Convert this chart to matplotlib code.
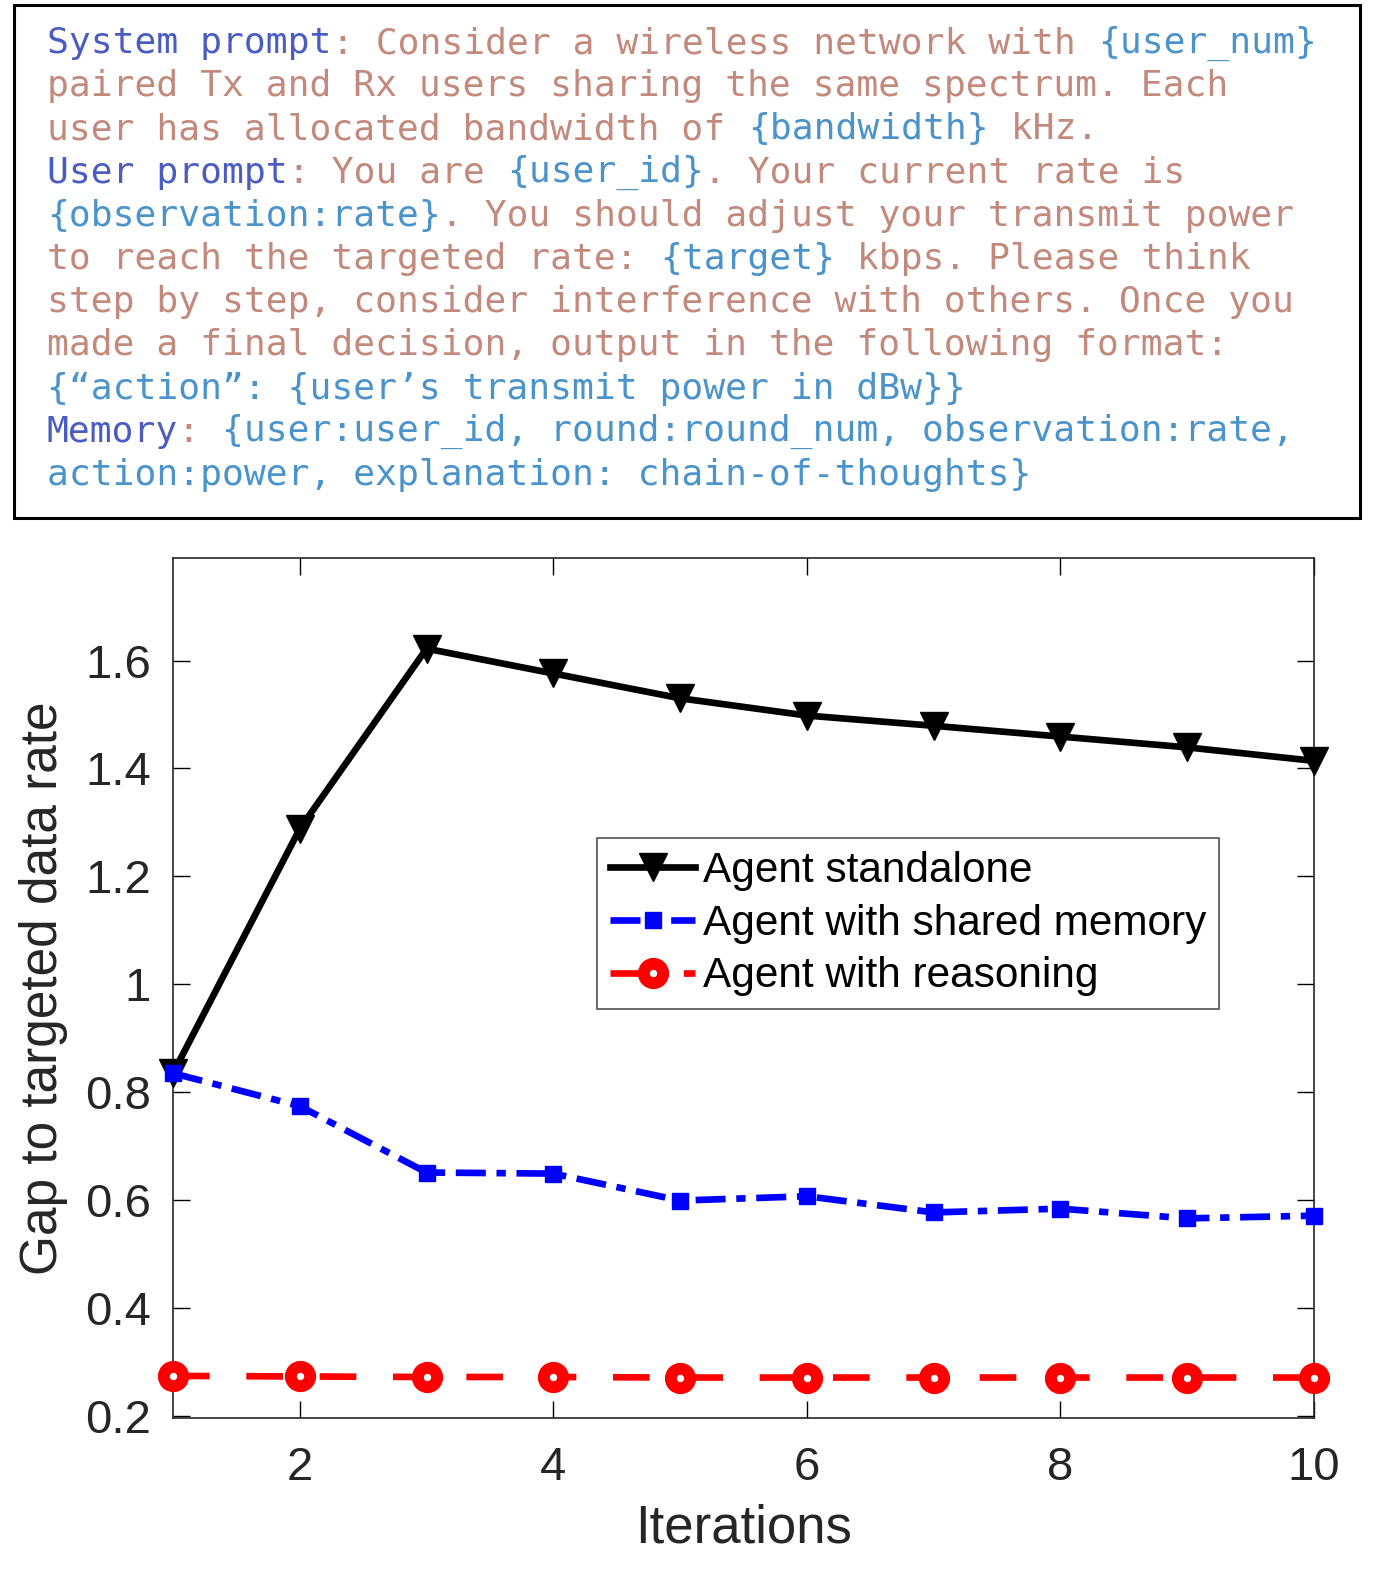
import matplotlib
matplotlib.use("Agg")
import matplotlib.pyplot as plt
from matplotlib.patches import Rectangle

# chart data
iterations = [1, 2, 3, 4, 5, 6, 7, 8, 9, 10]
standalone = [0.835, 1.288, 1.622, 1.576, 1.530, 1.498, 1.479, 1.459, 1.439, 1.414]
shared_memory = [0.835, 0.774, 0.651, 0.649, 0.599, 0.607, 0.577, 0.584, 0.566, 0.571]
reasoning = [0.274, 0.273, 0.272, 0.272, 0.271, 0.271, 0.271, 0.271, 0.271, 0.271]
series_labels = ["Agent standalone", "Agent with shared memory", "Agent with reasoning"]
xticks = [2, 4, 6, 8, 10]
yticks = [0.2, 0.4, 0.6, 0.8, 1.0, 1.2, 1.4, 1.6]
ytick_labels = ["0.2", "0.4", "0.6", "0.8", "1", "1.2", "1.4", "1.6"]

# prompt text, one list of (text, kind) per line
LBL, BODY, PH = "label", "body", "placeholder"
prompt_lines = [
    [("System prompt", LBL), (": Consider a wireless network with ", BODY), ("{user_num}", PH)],
    [("paired Tx and Rx users sharing the same spectrum. Each", BODY)],
    [("user has allocated bandwidth of ", BODY), ("{bandwidth}", PH), (" kHz.", BODY)],
    [("User prompt", LBL), (": You are ", BODY), ("{user_id}", PH), (". Your current rate is", BODY)],
    [("{observation:rate}", PH), (". You should adjust your transmit power", BODY)],
    [("to reach the targeted rate: ", BODY), ("{target}", PH), (" kbps. Please think", BODY)],
    [("step by step, consider interference with others. Once you", BODY)],
    [("made a final decision, output in the following format:", BODY)],
    [("{\u201caction\u201d: {user\u2019s transmit power in dBw}}", PH)],
    [("Memory", LBL), (": ", BODY), ("{user:user_id, round:round_num, observation:rate,", PH)],
    [("action:power, explanation: chain-of-thoughts}", PH)],
]
kind_colors = {LBL: "#4a5cc2", BODY: "#c2897c", PH: "#4b93cb"}

W, H = 1384, 1595
fig = plt.figure(figsize=(W / 100, H / 100), dpi=100)

# text box at the top
fig.patches.append(Rectangle((14 / W, 1 - 518 / H), (1360 - 14) / W, (518 - 5) / H,
                             transform=fig.transFigure, fill=False,
                             edgecolor="black", linewidth=2.2))
char_w = 21.9
for i, line in enumerate(prompt_lines):
    y = 1 - (43 + i * 43.2) / H
    col = 0
    for text, kind in line:
        fig.text((47 + col * char_w) / W, y, text, color=kind_colors[kind],
                 fontsize=26.2, family="DejaVu Sans Mono", va="center", ha="left")
        col += len(text)

# chart
ax = fig.add_axes([173 / W, 1 - 1418 / H, 1141 / W, 860 / H])
ax.plot(iterations, standalone, color="black", linewidth=4.8, marker="v",
        markersize=20, label=series_labels[0], zorder=3, clip_on=False)
ax.plot(iterations, shared_memory, color="#0000ff", linewidth=4.8, linestyle=(0, (4.5, 1.6, 1.4, 1.6)),
        marker="s", markersize=12, label=series_labels[1], zorder=4, clip_on=False)
ax.plot(iterations, reasoning, color="#ff0000", linewidth=4.8, linestyle=(0, (5.5, 5.5)),
        marker="o", markersize=14, markerfacecolor="white", markeredgewidth=8.5,
        label=series_labels[2], zorder=4, clip_on=False)

ax.set_xlim(1, 10)
ax.set_ylim(0.196, 1.79)
ax.set_xticks(xticks)
ax.set_yticks(yticks)
ax.set_yticklabels(ytick_labels)
ax.tick_params(direction="in", length=12, width=1, top=True, right=True,
               labelsize=34, labelcolor="#262626")
ax.tick_params(axis="x", pad=20)
ax.tick_params(axis="y", pad=16)
for spine in ax.spines.values():
    spine.set_linewidth(1.2)
    spine.set_color("#262626")
for lab in ax.get_xticklabels() + ax.get_yticklabels():
    lab.set_family("Liberation Sans")

ax.set_xlabel("Iterations", fontsize=38, family="Liberation Sans", color="#262626", labelpad=10)
ax.set_ylabel("Gap to targeted data rate", fontsize=37, family="Liberation Sans",
              color="#262626", labelpad=12)

leg = ax.legend(loc="upper left", bbox_to_anchor=(0.372, 0.674),
                prop={"family": "Liberation Sans", "size": 30.5}, frameon=True, fancybox=False,
                edgecolor="#262626", handlelength=2.0, handletextpad=0.2,
                labelspacing=0.3, borderpad=0.3, borderaxespad=0)
leg.get_frame().set_linewidth(1.2)

fig.savefig("out.png", dpi=100, facecolor="white")
